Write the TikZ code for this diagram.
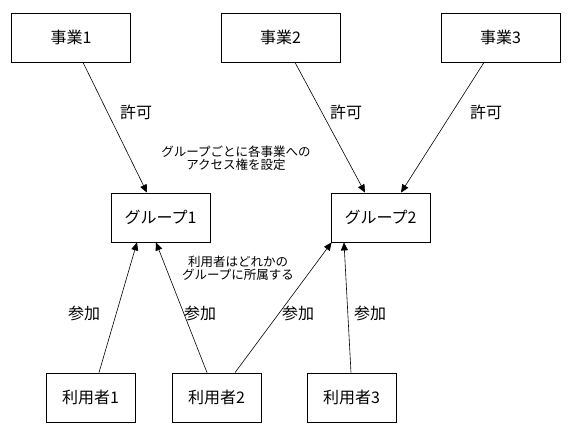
\documentclass[tikz,border=0pt]{standalone}
\usepackage{fontspec}
\setmainfont{Noto Sans CJK JP}
\usetikzlibrary{arrows.meta}
\tikzset{
  box/.style={draw,line width=0.8pt,minimum height=49pt,font=\fontsize{16}{18}\selectfont},
  lbl/.style={font=\fontsize{16}{18}\selectfont},
  note/.style={font=\fontsize{12.5}{13}\selectfont,align=center},
  arr/.style={line width=0.6pt,-{Triangle[length=8pt,width=7pt]}}
}
\begin{document}
\begin{tikzpicture}[x=1pt,y=-1pt]
\useasboundingbox[fill=white] (0,0) rectangle (581,432);
\node[box,minimum width=119pt] (j1) at (71, 37.5) {事業1};
\node[box,minimum width=119pt] (j2) at (280.5, 37.5) {事業2};
\node[box,minimum width=119pt] (j3) at (500.5, 37.5) {事業3};
\node[box,minimum width=99pt] (g1) at (160.5, 217.5) {グループ1};
\node[box,minimum width=99pt] (g2) at (380.5, 217.5) {グループ2};
\node[box,minimum width=89pt] (u1) at (90.5, 397.5) {利用者1};
\node[box,minimum width=89pt] (u2) at (216.5, 397.5) {利用者2};
\node[box,minimum width=89pt] (u3) at (351.5, 397.5) {利用者3};
\node[lbl] (k1) at (136, 112) {許可};
\node[lbl] (k2) at (346, 112) {許可};
\node[lbl] (k3) at (486, 112) {許可};
\node[lbl] (s1) at (84, 313) {参加};
\node[lbl] (s2) at (200, 313) {参加};
\node[lbl] (s3) at (298, 313) {参加};
\node[lbl] (s4) at (370, 313) {参加};
\node[note] (n1) at (236, 158) {グループごとに各事業への\\アクセス権を設定};
\node[note] (n2) at (238, 268) {利用者はどれかの\\グループに所属する};
\draw[arr] ([xshift=12pt]j1.south) to ([xshift=-13.5pt]g1.north);
\draw[arr] ([xshift=14.5pt]j2.south) to ([xshift=-15.5pt]g2.north);
\draw[arr] ([xshift=-16.5pt]j3.south) to ([xshift=20.5pt]g2.north);
\draw[arr] ([xshift=8.5pt]u1.north) to ([xshift=-23.5pt]g1.south);
\draw[arr] ([xshift=-9.5pt]u2.north) to ([xshift=-4.5pt]g1.south);
\draw[arr] ([xshift=18.5pt]u2.north) to ([xshift=1pt]g2.south west);
\draw[arr] ([xshift=-0.5pt]u3.north) to ([xshift=-36.5pt]g2.south);
\end{tikzpicture}
\end{document}
